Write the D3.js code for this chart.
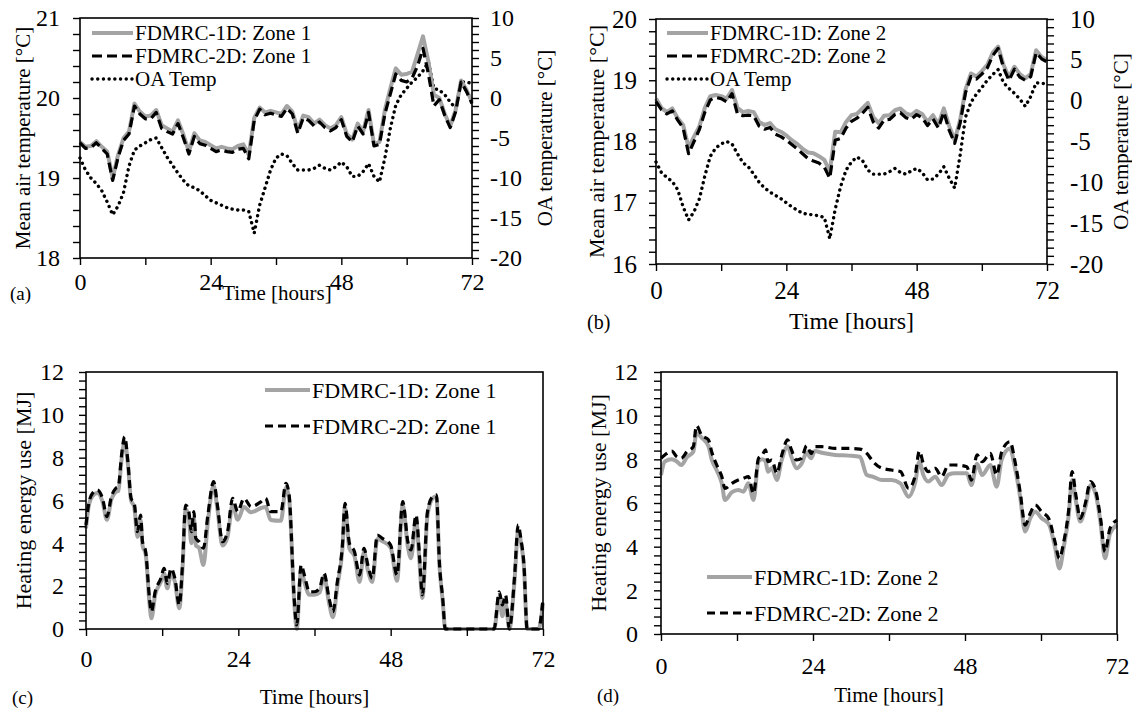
<!DOCTYPE html>
<meta charset="utf-8">
<style>
  html, body { margin: 0; padding: 0; background: #fff; }
  svg { display: block; }
  text { font-family: "Liberation Serif", "Times New Roman", serif; fill: #000; }
</style>
<body>
<script src="https://cdn.jsdelivr.net/npm/d3@7"></script>
<script>
// ---- data: hourly mean air temperature and outdoor air (OA) temperature ----
var hours = [0,1,2,3,4,5,6,7,8,9,10,11,12,13,14,15,16,17,18,19,20,21,22,23,24,25,26,27,28,29,30,
  31,32,33,34,35,36,37,38,39,40,41,42,43,44,45,46,47,48,49,50,51,52,53,54,55,56,57,58,59,60,
  61,62,63,64,65,66,67,68,69,70,71,72];

var zone1Mean1D = [19.45,19.39,19.40,19.46,19.39,19.33,19.00,19.29,19.50,19.58,
  19.93,19.83,19.77,19.78,19.85,19.66,19.62,19.58,19.72,19.54,
  19.33,19.56,19.47,19.45,19.41,19.37,19.39,19.37,19.36,19.40,
  19.42,19.29,19.75,19.88,19.82,19.84,19.82,19.80,19.90,19.83,
  19.60,19.78,19.76,19.68,19.73,19.66,19.62,19.66,19.76,19.55,
  19.48,19.68,19.58,19.85,19.42,19.45,19.85,20.12,20.37,20.29,
  20.30,20.33,20.55,20.77,20.45,20.04,20.00,19.80,19.65,19.85,
  20.22,20.10,19.95];
var zone1Mean2D = [19.44,19.37,19.38,19.44,19.37,19.30,18.97,19.26,19.47,19.55,
  19.90,19.80,19.74,19.74,19.82,19.62,19.58,19.55,19.68,19.50,
  19.30,19.52,19.43,19.41,19.37,19.33,19.35,19.33,19.32,19.36,
  19.37,19.24,19.72,19.86,19.79,19.81,19.79,19.77,19.87,19.80,
  19.56,19.75,19.72,19.65,19.70,19.63,19.59,19.63,19.73,19.52,
  19.45,19.65,19.55,19.82,19.40,19.42,19.80,20.05,20.30,20.22,
  20.20,20.25,20.40,20.62,20.30,19.90,19.98,19.78,19.63,19.83,
  20.20,20.08,19.93];
var zone1OA = [-7.5,-9.0,-10.0,-10.7,-11.6,-13.0,-14.6,-13.5,-11.8,-8.5,
  -6.5,-6.0,-5.6,-5.2,-5.0,-6.2,-7.4,-8.4,-9.4,-10.3,
  -11.0,-11.2,-11.6,-12.2,-12.8,-13.1,-13.4,-13.7,-13.9,-14.0,
  -14.0,-14.2,-16.9,-13.4,-11.2,-9.0,-7.5,-7.0,-7.2,-8.2,
  -9.0,-9.0,-9.0,-8.8,-8.4,-8.8,-9.0,-8.6,-8.0,-8.6,
  -9.8,-9.8,-9.2,-8.2,-9.8,-10.5,-7.5,-3.8,-0.9,0.4,
  1.2,2.0,2.6,3.4,4.5,1.2,1.0,0.4,-0.5,-1.3,
  2.0,2.0,1.8];

var zone2Mean1D = [18.70,18.55,18.48,18.54,18.38,18.27,17.90,18.08,18.25,18.55,
  18.74,18.76,18.74,18.70,18.84,18.55,18.48,18.50,18.48,18.32,
  18.27,18.30,18.20,18.16,18.10,18.02,17.96,17.88,17.82,17.81,
  17.76,17.70,17.51,18.16,18.15,18.32,18.43,18.45,18.54,18.63,
  18.40,18.30,18.42,18.43,18.51,18.54,18.46,18.43,18.50,18.45,
  18.32,18.43,18.28,18.54,18.25,18.02,18.35,18.85,19.11,19.06,
  19.15,19.25,19.45,19.55,19.25,19.05,19.22,19.10,19.03,19.10,
  19.49,19.38,19.33];
var zone2Mean2D = [18.65,18.52,18.45,18.50,18.35,18.22,17.80,18.00,18.20,18.48,
  18.68,18.72,18.70,18.65,18.78,18.45,18.42,18.43,18.42,18.25,
  18.20,18.23,18.12,18.08,18.02,17.95,17.88,17.80,17.72,17.68,
  17.65,17.58,17.40,18.02,18.05,18.22,18.33,18.38,18.46,18.56,
  18.32,18.22,18.35,18.36,18.44,18.47,18.39,18.36,18.44,18.39,
  18.26,18.37,18.22,18.48,18.18,17.97,18.30,18.80,19.06,19.02,
  19.10,19.20,19.40,19.52,19.20,19.00,19.18,19.05,19.00,19.06,
  19.45,19.35,19.30];
var zone2OA = [-7.5,-8.8,-9.4,-9.9,-10.9,-13.0,-14.6,-13.6,-12.0,-9.2,
  -6.8,-5.8,-5.3,-5.0,-5.3,-6.5,-7.6,-8.1,-9.0,-10.0,
  -10.7,-11.2,-11.6,-12.0,-12.5,-13.0,-13.4,-13.8,-13.9,-14.0,
  -14.1,-14.3,-16.9,-13.3,-10.5,-8.5,-7.5,-6.9,-7.3,-8.5,
  -9.0,-9.0,-9.0,-8.7,-8.3,-8.8,-9.0,-8.6,-8.3,-8.8,
  -9.7,-9.6,-9.0,-8.1,-9.5,-10.7,-6.7,-2.0,-0.2,0.8,
  1.6,2.5,3.2,3.8,2.2,1.5,0.9,0.2,-0.7,0.5,
  2.2,2.1,2.1];

// ---- data: heating energy use [MJ] ----
var heatHoursZ1 = [0,0.4,1,1.8,2.6,3.3,4,4.7,5.1,5.6,6.1,6.6,7.1,7.6,8.1,8.6,8.9,9.4,10,10.3,
  10.9,11.8,12.3,12.8,13.4,14,14.7,15.2,15.7,16.2,16.6,17,17.3,17.8,18.5,19.2,20.1,20.7,21.5,22.3,
  23.1,23.9,24.9,26,27.6,28.3,29.1,30.7,31.5,32,32.8,33.2,33.9,34.4,35.2,36,36.8,37.5,38.3,38.9,
  39.6,40.4,40.8,41.5,42.3,43.1,43.8,44.4,45.1,45.9,46.7,48,49,49.9,50.7,51.2,52,52.5,53,53.8,
  54.6,55.2,55.7,56.2,56.6,60,64.3,65.1,65.6,66.1,66.7,67.5,68.1,68.5,69,69.5,71.3,72];
var heat2DZone1 = [4.86,5.8,6.33,6.49,6.1,5.25,6.18,6.57,6.65,8.12,
  8.98,7.81,6.10,5.87,4.54,5.32,4.08,3.61,1.43,0.81,
  1.74,2.37,2.83,2.13,2.83,2.37,1.12,2.99,5.79,5.48,
  4.54,5.48,4.23,4.08,3.77,5.32,6.88,5.79,4.08,4.54,
  6.10,5.48,6.10,5.71,5.95,6.10,5.48,5.48,6.80,6.26,
  1.43,0.19,2.99,2.52,1.74,1.74,1.90,2.60,1.43,0.81,
  2.21,3.92,5.87,4.00,3.61,2.52,3.77,2.99,2.37,4.39,
  4.23,3.92,2.52,5.95,4.08,3.69,5.32,3.61,1.59,5.48,
  6.18,6.26,2.99,1.43,0,0,0,1.74,1.12,1.59,
  0,2.37,4.86,4.23,2.99,0,0,1.43];
var heat1DZone1 = [4.70,5.70,6.20,6.35,5.95,5.10,6.05,6.40,6.45,7.90,
  8.75,7.70,6.00,5.70,4.30,5.10,3.90,3.50,1.20,0.50,
  1.60,2.20,2.60,1.90,2.60,2.20,0.97,2.80,5.60,5.20,
  4.00,5.20,3.90,3.80,2.99,5.00,6.70,5.60,3.90,4.30,
  5.80,5.10,5.70,5.45,5.65,5.70,5.09,5.05,6.60,6.10,
  1.30,0.00,2.80,2.20,1.60,1.60,1.70,2.45,1.20,0.55,
  2.00,3.75,5.70,3.75,3.40,2.20,3.60,2.75,2.20,4.20,
  4.10,3.80,2.25,5.80,3.85,3.30,5.10,3.30,1.45,5.30,
  6.10,6.20,2.90,1.30,0,0,0,1.50,0.60,1.20,
  0,2.20,4.60,4.10,2.90,0,0,1.20];

var heatHoursZ2 = [0,0.6,1.7,2.5,3.2,4.1,5.1,5.6,6.4,7.5,8,8.8,9.6,10.1,11.2,12.2,13,13.8,14.6,15.4,
  16,16.5,16.9,17.5,18.3,19,20,20.6,21.4,22.2,23,23.7,24.3,25.4,27.5,29.6,31.4,32.5,33.5,34.9,
  36.4,37.8,39.1,40.1,40.8,41.4,42.2,43.3,44.3,45.4,46.4,48.3,49,49.9,50.7,52,53,53.8,55.1,55.9,
  56.7,57.5,58.3,59.1,60.1,61.2,62.2,62.9,63.6,64.4,64.9,65.5,66.2,67,67.8,68.6,69.4,70.1,70.9,72];
var heat2DZone2 = [8.05,8.20,8.38,8.12,8.05,8.35,8.58,9.54,9.11,8.89,
  8.35,7.74,7.21,6.67,6.90,7.05,7.13,7.21,6.44,8.05,
  8.20,8.43,7.89,7.97,7.36,8.12,8.89,8.43,7.97,8.05,
  8.63,8.27,8.58,8.58,8.50,8.50,8.47,8.27,7.89,7.59,
  7.51,7.44,6.67,7.21,8.38,7.82,7.44,7.59,7.21,7.74,
  7.74,7.66,7.05,8.20,7.89,8.27,7.28,8.35,8.81,7.89,
  6.52,4.99,5.53,5.91,5.60,5.30,4.23,3.47,4.23,5.76,
  7.44,6.37,5.30,5.98,6.98,6.60,5.30,3.77,4.84,5.22];
var heat1DZone2 = [7.28,7.90,8.00,7.90,7.74,8.10,8.35,9.20,9.00,8.60,
  8.00,7.50,6.90,6.14,6.50,6.60,6.52,6.90,6.14,7.90,
  8.00,7.90,7.43,7.60,7.05,7.90,8.60,8.10,7.59,7.80,
  8.30,8.05,8.38,8.30,8.20,8.17,8.12,7.28,7.20,7.05,
  7.05,6.90,6.29,6.90,7.89,7.30,6.98,7.20,6.82,7.30,
  7.36,7.36,6.82,7.80,7.28,7.74,6.75,8.00,8.50,7.60,
  6.30,4.69,5.30,5.60,5.30,5.05,4.00,3.00,4.00,5.50,
  7.05,6.10,5.15,5.80,6.80,6.44,5.10,3.47,4.60,4.99];

var xTicks = [0,12,24,36,48,60,72];
</script>

<script>
var svg = d3.select("body").append("svg")
  .attr("width", 1132)
  .attr("height", 708);

var styles = {
  solid:  {stroke: "#a4a4a4", width: 4, dash: null, cap: "butt"},
  dashed: {stroke: "#000", width: 3.2, dash: "10,5", cap: "butt"},
  dashC:  {stroke: "#000", width: 3.2, dash: "8,5", cap: "butt"},
  dotted: {stroke: "#000", width: 3.4, dash: "0.1,5.6", cap: "round"}
};

function stepTicks(lo, hi, step) {
  var n = Math.round((hi - lo) / step);
  return d3.range(n + 1).map(function(i) { return +(lo + i * step).toFixed(4); });
}
function isMult(d, m) {
  return Math.abs(d / m - Math.round(d / m)) < 1e-6;
}
function styleAxis(g, size) {
  g.select(".domain").remove();
  g.selectAll(".tick line").attr("stroke", "#000").attr("stroke-width", 1.4);
  g.attr("font-family", "Liberation Serif, Times New Roman, serif")
   .attr("font-size", size);
  g.selectAll("text").attr("fill", "#000");
}
function applyStyle(sel, s) {
  sel.attr("fill", "none")
    .attr("stroke", s.stroke)
    .attr("stroke-width", s.width)
    .attr("stroke-linecap", s.cap)
    .attr("stroke-linejoin", "round");
  if (s.dash) sel.attr("stroke-dasharray", s.dash);
}

function drawPanel(o) {
  var x = d3.scaleLinear().domain([0, 72]).range([o.left, o.right]);
  var y = d3.scaleLinear().domain(o.yDomain).range([o.bottom, o.top]);
  var y2 = o.y2Domain ? d3.scaleLinear().domain(o.y2Domain).range([o.bottom, o.top]) : null;

  // series
  o.series.forEach(function(s) {
    var sc = s.right ? y2 : y;
    var pts = s.x.map(function(t, i) { return [t, s.y[i]]; });
    var line = d3.line()
      .x(function(d) { return x(d[0]); })
      .y(function(d) { return sc(d[1]); })
      .curve(o.curve);
    svg.append("path").datum(pts).attr("d", line).call(applyStyle, styles[s.style]);
  });

  // frame
  svg.append("rect")
    .attr("x", o.left).attr("y", o.top)
    .attr("width", o.right - o.left).attr("height", o.bottom - o.top)
    .attr("fill", "none").attr("stroke", "#000").attr("stroke-width", 1.6);

  // axes
  var gx = svg.append("g")
    .attr("transform", "translate(0," + o.bottom + ")")
    .call(d3.axisBottom(x).tickValues(xTicks).tickSize(7).tickPadding(o.xPad)
      .tickFormat(function(d) { return isMult(d, 24) ? d : ""; }));
  styleAxis(gx, o.tickFont);

  var gy = svg.append("g")
    .attr("transform", "translate(" + o.left + ",0)")
    .call(d3.axisLeft(y).tickValues(stepTicks(o.yDomain[0], o.yDomain[1], o.yMinor))
      .tickSize(7).tickPadding(o.yPad)
      .tickFormat(function(d) { return isMult(d, o.yMajor) ? d : ""; }));
  styleAxis(gy, o.tickFont);

  if (y2) {
    var gy2 = svg.append("g")
      .attr("transform", "translate(" + o.right + ",0)")
      .call(d3.axisRight(y2).tickValues(stepTicks(o.y2Domain[0], o.y2Domain[1], 1))
        .tickSize(7).tickPadding(o.y2Pad)
        .tickFormat(function(d) { return isMult(d, 5) ? String(d) : ""; }));
    styleAxis(gy2, o.tickFont);
  }

  // titles
  svg.append("text")
    .attr("transform", "translate(" + o.yTitleX + "," + ((o.top + o.bottom) / 2) + ") rotate(-90)")
    .attr("text-anchor", "middle").attr("dy", "0.35em")
    .attr("font-size", o.yTitleFont)
    .text(o.yTitle);
  if (o.y2Title) {
    svg.append("text")
      .attr("transform", "translate(" + o.y2TitleX + "," + ((o.top + o.bottom) / 2) + ") rotate(-90)")
      .attr("text-anchor", "middle").attr("dy", "0.35em")
      .attr("font-size", o.y2TitleFont)
      .text(o.y2Title);
  }
  svg.append("text")
    .attr("x", o.xTitleX || (o.left + o.right) / 2).attr("y", o.xTitleY)
    .attr("text-anchor", "middle")
    .attr("font-size", o.xTitleFont)
    .text("Time [hours]");
  svg.append("text")
    .attr("x", o.tagX).attr("y", o.tagY)
    .attr("font-size", o.tagFont)
    .text(o.tag);

  // legend
  var lg = o.legend;
  lg.items.forEach(function(it, i) {
    var yy = lg.y + i * lg.dy;
    svg.append("line")
      .attr("x1", lg.x).attr("x2", lg.x + lg.len)
      .attr("y1", yy).attr("y2", yy)
      .call(applyStyle, styles[it.style]);
    svg.append("text")
      .attr("x", lg.x + lg.len + 2).attr("y", yy).attr("dy", "0.35em")
      .attr("font-size", lg.font)
      .text(it.label);
  });
}

// (a)
drawPanel({
  left: 80, right: 472, top: 18, bottom: 258,
  yDomain: [18, 21], yMinor: 0.2, yMajor: 1, y2Domain: [-20, 10],
  xPad: 8, yPad: 13, y2Pad: 11, tickFont: 24, curve: d3.curveLinear,
  series: [
    {x: hours, y: zone1OA, style: "dotted", right: true},
    {x: hours, y: zone1Mean1D, style: "solid"},
    {x: hours, y: zone1Mean2D, style: "dashed"}
  ],
  yTitle: "Mean air temperature [°C]", yTitleX: 23, yTitleFont: 21,
  y2Title: "OA temperature [°C]", y2TitleX: 545, y2TitleFont: 21,
  xTitleX: 277, xTitleY: 300, xTitleFont: 21, tag: "(a)", tagX: 10, tagY: 300, tagFont: 19,
  legend: {x: 92, y: 33, dy: 23, len: 41, font: 21, items: [
    {style: "solid", label: "FDMRC-1D: Zone 1"},
    {style: "dashed", label: "FDMRC-2D: Zone 1"},
    {style: "dotted", label: "OA Temp"}
  ]}
});

// (b)
drawPanel({
  left: 656, right: 1047, top: 19, bottom: 264,
  yDomain: [16, 20], yMinor: 0.2, yMajor: 1, y2Domain: [-20, 10],
  xPad: 10, yPad: 12, y2Pad: 16, tickFont: 25, curve: d3.curveLinear,
  series: [
    {x: hours, y: zone2OA, style: "dotted", right: true},
    {x: hours, y: zone2Mean1D, style: "solid"},
    {x: hours, y: zone2Mean2D, style: "dashed"}
  ],
  yTitle: "Mean air temperature [°C]", yTitleX: 596, yTitleFont: 22,
  y2Title: "OA temperature [°C]", y2TitleX: 1121, y2TitleFont: 21,
  xTitleY: 329, xTitleFont: 24, tag: "(b)", tagX: 587, tagY: 329, tagFont: 20,
  legend: {x: 667, y: 33, dy: 23, len: 41, font: 21, items: [
    {style: "solid", label: "FDMRC-1D: Zone 2"},
    {style: "dashed", label: "FDMRC-2D: Zone 2"},
    {style: "dotted", label: "OA Temp"}
  ]}
});

// (c)
drawPanel({
  left: 86, right: 543, top: 372, bottom: 629,
  yDomain: [0, 12], yMinor: 0.4, yMajor: 2,
  xPad: 14, yPad: 15, tickFont: 24, curve: d3.curveMonotoneX,
  series: [
    {x: heatHoursZ1, y: heat1DZone1, style: "solid"},
    {x: heatHoursZ1, y: heat2DZone1, style: "dashC"}
  ],
  yTitle: "Heating energy use [MJ]", yTitleX: 23, yTitleFont: 22,
  xTitleY: 704, xTitleFont: 21, tag: "(c)", tagX: 12, tagY: 704, tagFont: 19,
  legend: {x: 265, y: 390, dy: 36, len: 45, font: 22, items: [
    {style: "solid", label: "FDMRC-1D: Zone 1"},
    {style: "dashC", label: "FDMRC-2D: Zone 1"}
  ]}
});

// (d)
drawPanel({
  left: 661, right: 1117, top: 372, bottom: 634,
  yDomain: [0, 12], yMinor: 0.4, yMajor: 2,
  xPad: 16, yPad: 16, tickFont: 24, curve: d3.curveMonotoneX,
  series: [
    {x: heatHoursZ2, y: heat1DZone2, style: "solid"},
    {x: heatHoursZ2, y: heat2DZone2, style: "dashC"}
  ],
  yTitle: "Heating energy use [MJ]", yTitleX: 598, yTitleFont: 22,
  xTitleY: 702, xTitleFont: 21, tag: "(d)", tagX: 597, tagY: 702, tagFont: 19,
  legend: {x: 707, y: 577, dy: 36, len: 45, font: 22, items: [
    {style: "solid", label: "FDMRC-1D: Zone 2"},
    {style: "dashC", label: "FDMRC-2D: Zone 2"}
  ]}
});
</script>
</body>
